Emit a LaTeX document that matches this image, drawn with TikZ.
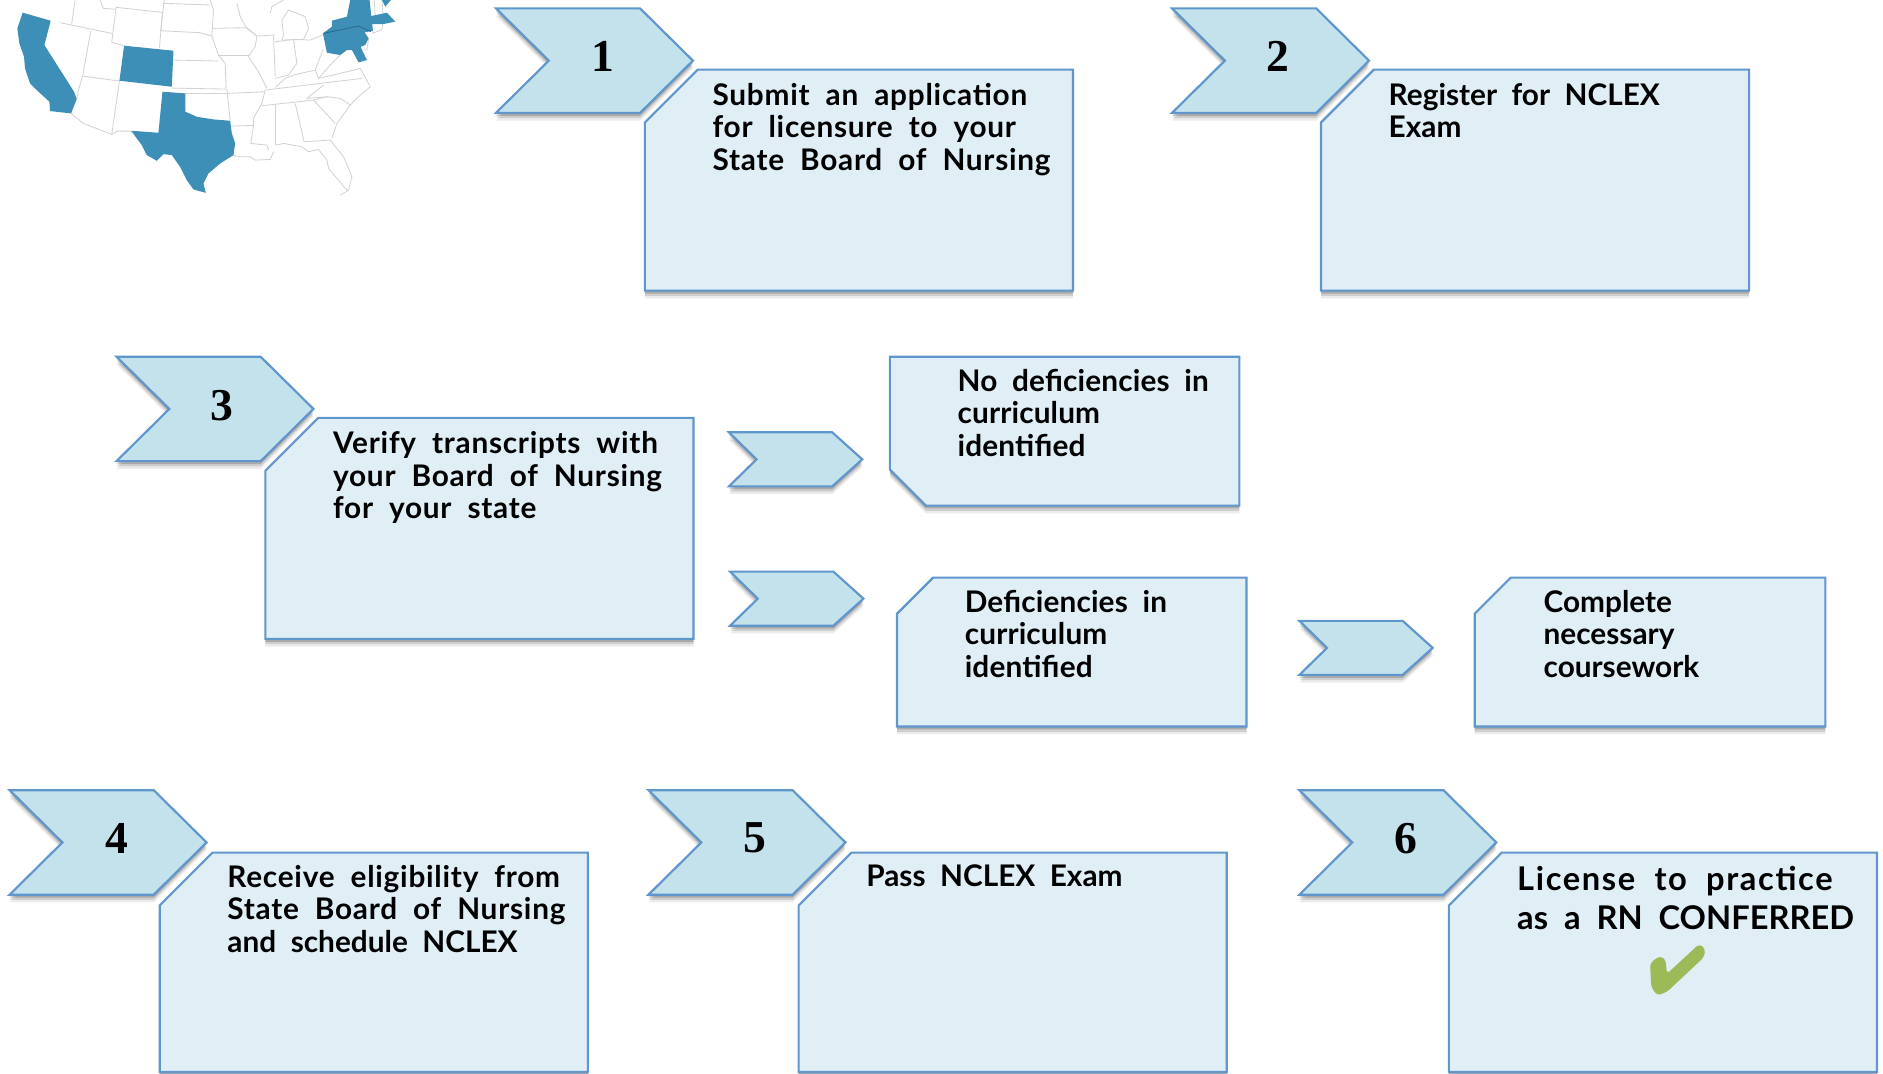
\documentclass[tikz,border=0pt]{standalone}
\usepackage{fontspec}
\setmainfont{Lato}[BoldFont=* Bold,WordSpace=2.0]
\newfontfamily\handwide{Lato}[BoldFont=* Bold,WordSpace=2.0,LetterSpace=2.5]
\newfontfamily\handwider{Lato}[BoldFont=* Bold,WordSpace=2.0,LetterSpace=5]
\newfontfamily\handmid{Lato}[BoldFont=* Bold,WordSpace=2.0,LetterSpace=.5]
\newfontfamily\handcaps{Lato}[BoldFont=* Bold,WordSpace=1.7]
\newfontfamily\handplain{Lato}[BoldFont=* Bold,WordSpace=2.0]
\newfontfamily\numfont{Liberation Serif}[BoldFont=* Bold]
\definecolor{chevfill}{HTML}{C3E2EC}
\definecolor{boxfill}{HTML}{E0EEF6}
\definecolor{edge}{HTML}{5F96CC}
\definecolor{statefill}{HTML}{3D8FB8}
\definecolor{mapline}{HTML}{D2D2D2}
\definecolor{tick}{HTML}{9BBB59}
\tikzset{
  softshadow/.style={
    preaction={fill=black,fill opacity=.08,draw=none,transform canvas={yshift=-3.2pt}},
    preaction={fill=black,fill opacity=.12,draw=none,transform canvas={yshift=-2.2pt}},
    preaction={fill=black,fill opacity=.18,draw=none,transform canvas={yshift=-1.2pt}}},
  chev/.style={softshadow,fill=chevfill,draw=edge,line width=.9pt,line join=miter},
  note/.style={softshadow,fill=boxfill,draw=edge,line width=.9pt,line join=miter},
  numlabel/.style={font=\numfont\bfseries\fontsize{19}{19}\selectfont,inner sep=0pt},
  txtbase/.style={anchor=north west,align=left,inner sep=0pt,text=black},
  txtA/.style={txtbase,font=\handwide\bfseries\fontsize{12.4}{13.5}\selectfont},
  txtB/.style={txtbase,font=\handmid\bfseries\fontsize{12.4}{13.5}\selectfont},
  txtC/.style={txtbase,font=\handcaps\bfseries\fontsize{12.4}{13.5}\selectfont},
  bigtxt/.style={txtbase,font=\bfseries\fontsize{13.6}{16}\selectfont},
  stateline/.style={draw=mapline,line width=.35pt,line join=round},
  stateblue/.style={fill=statefill,draw=none}
}
\newcommand{\bigchev}[2]{%
  \draw[chev] (#1,#2) -- ++(120,0) -- ++(44,43.5) -- ++(-44,43.5) -- ++(-120,0) -- ++(44,-43.5) -- cycle;
}
\newcommand{\smallchev}[2]{%
  \draw[chev] (#1,#2) -- ++(86,0) -- ++(25,22.5) -- ++(-25,22.5) -- ++(-86,0) -- ++(23,-22.5) -- cycle;
}
\newcommand{\bignote}[3]{%
  \draw[note] (#1,#2+44) -- ++(44,-44) -- ++(312.5,0) -- (#1+356.5,#3) -- (#1,#3) -- cycle;
}
\begin{document}
\begin{tikzpicture}[x=.5pt,y=-.5pt]
\useasboundingbox (0,0) rectangle (1568,894);
\begin{scope}
\clip (0,0) rectangle (1568,894);
% map, in units of one third of a reference pixel
\begin{scope}[x=.13889pt,y=-.13889pt]
\foreach \p in {
 {(225,0)--(215,72)},
 {(180,68)--(335,100)},
 {(272,92)--(248,228)--(235,270)--(230,297)},
 {(248,228)--(358,243)},
 {(348,22)--(335,127)--(372,137)},
 {(348,22)--(487,37)--(478,143)},
 {(300,0)--(310,25)--(348,28)},
 {(490,10)--(630,15)},
 {(492,0)--(482,92)},
 {(480,92)--(600,98)--(635,108)--(655,165)--(675,190)--(678,265)},
 {(520,180)--(655,183)},
 {(515,264)--(678,267)},
 {(630,0)--(640,30)--(635,108)},
 {(638,85)--(740,83)},
 {(358,243)--(335,403)--(352,393)--(395,393)},
 {(213,340)--(250,370)--(335,403)},
 {(556,280)--(680,280)},
 {(680,267)--(690,360)},
 {(682,280)--(795,275)},
 {(695,378)--(760,376)},
 {(795,270)--(785,310)--(760,355)--(760,375)--(752,430)--(800,435)--(805,450)},
 {(700,465)--(720,470)--(750,470)--(765,480)--(810,478)--(820,455)},
 {(827,315)--(827,435)},
 {(885,310)--(912,425)},
 {(785,317)--(940,300)},
 {(795,270)--(1085,235)},
 {(940,300)--(980,290)--(1020,295)--(1050,315)--(1010,370)},
 {(940,300)--(1005,370)},
 {(1010,370)--(995,415)},
 {(827,435)--(850,430)--(905,440)--(925,455)--(955,448)--(980,480)--(985,505)--(1015,540)--(1035,565)--(1045,572)},
 {(912,425)--(990,420)--(1030,470)--(1055,530)--(1045,570)--(1020,585)},
 {(1050,315)--(1075,290)--(1110,260)--(1095,232)},
 {(970,255)--(920,295)--(985,290)},
 {(710,10)--(720,50)--(740,85)--(770,108)--(765,140)--(745,170)--(775,215)--(800,265)},
 {(655,165)--(745,165)},
 {(740,83)--(770,108)--(825,105)},
 {(820,108)--(825,230)},
 {(825,125)--(880,118)--(890,190)--(865,225)--(825,235)},
 {(880,118)--(930,120)--(968,105)},
 {(845,60)--(850,105)--(845,120)--(910,118)--(925,85)--(915,50)--(890,40)--(865,30)--(845,60)},
 {(810,40)--(815,20)--(850,0)},
 {(945,210)--(955,235)--(990,195)--(1020,165)},
 {(968,150)--(945,210)--(880,225)--(855,235)--(825,262)},
 {(955,235)--(1040,215)--(1080,205)--(1095,232)},
 {(1122,0)--(1125,45)},
 {(1145,0)--(1148,40)},
 {(1115,72)--(1118,100)--(1145,88)--(1148,70)},
 {(1105,115)--(1100,150)--(1085,150)}
}{\path[stateline] \p;}
\fill[stateblue] (68,38)--(152,62)--(133,135)--(222,275)--(230,297)--(213,340)--(150,333)--(148,305)--(110,270)--(90,250)--(75,205)--(72,170)--(58,130)--(52,85)--cycle;
\fill[stateblue] (372,137)--(520,152)--(515,260)--(358,242)--cycle;
\fill[stateblue] (487,275)--(556,280)--(556,335)--(590,350)--(640,358)--(690,362)--(695,400)--(705,430)--(700,465)--(660,490)--(625,520)--(610,550)--(617,578)--(580,568)--(560,540)--(540,500)--(515,465)--(490,462)--(470,482)--(440,465)--(425,435)--(393,392)--(475,398)--cycle;
\fill[stateblue] (1050,0)--(1108,0)--(1113,48)--(1160,38)--(1185,65)--(1150,72)--(1115,72)--(1118,92)--(1093,97)--(1105,115)--(1095,135)--(1082,140)--(1085,150)--(1100,180)--(1075,187)--(1055,150)--(1040,150)--(1020,165)--(980,158)--(968,100)--(995,80)--(995,62)--(1040,50)--cycle;
\fill[stateblue] (1145,0)--(1172,0)--(1155,20)--cycle;
\draw[statefill!70!black,line width=.3pt] (970,100)--(1075,78)--(1112,95);
\end{scope}

% chevrons and note boxes
\bigchev{413}{7} \bignote{537}{58}{242}
\bigchev{976}{7} \bignote{1100}{58}{242}
\bigchev{97}{297} \bignote{221}{348}{532}
\bigchev{8}{658} \bignote{133}{710}{892.6}
\bigchev{540}{658} \bignote{665}{710}{892.6}
\bigchev{1082}{658} \bignote{1206.5}{710}{892.6}
\smallchev{607}{360}
\smallchev{608}{476}
\smallchev{1082}{517}
\draw[note] (741,297) -- (1032,297) -- (1032,421) -- (771,421) -- (741,391) -- cycle;
\draw[note] (747,511) -- (777,481) -- (1038,481) -- (1038,605) -- (747,605) -- cycle;
\draw[note] (1228,511) -- (1258,481) -- (1520,481) -- (1520,605) -- (1228,605) -- cycle;

% step numbers
\node[numlabel] (n1) at (502,47) {1};
\node[numlabel] (n2) at (1064,47) {2};
\node[numlabel] (n3) at (185,338) {3};
\node[numlabel] (n4) at (97,698) {4};
\node[numlabel] (n5) at (629,698) {5};
\node[numlabel] (n6) at (1171,698) {6};

% texts
\node[txtA] (t1) at (593,69) {Submit an application\\for licensure to your\\State Board of Nursing};
\node[txtC] (t2) at (1156,69) {Register for NCLEX\\Exam};
\node[txtA] (t3) at (277,359) {Verify transcripts with\\your Board of Nursing\\for your state};
\node[txtB] (t3a) at (797,307) {No deficiencies in\\curriculum\\identified};
\node[txtB] (t3b) at (803,491) {Deficiencies in\\curriculum\\identified};
\node[txtC] (t3c) at (1285,491) {Complete\\necessary\\coursework};
\node[txtA] (t4) at (189,720) {Receive eligibility from\\State Board of Nursing\\{\handcaps\bfseries and schedule NCLEX}};
\node[txtC] (t5) at (721,720) {Pass NCLEX Exam};
\node[bigtxt] (t6) at (1263,721) {{\handwider\bfseries License to practice}\\{\handplain\bfseries as a RN CONFERRED}};

% tick mark
\fill[tick,rounded corners=1.5pt] (1374,802) -- (1382,796) -- (1387,799) -- (1388,811) -- (1415,786) -- (1420,790) -- (1419,797) -- (1388,826) -- (1380,829) -- (1375,822) -- cycle;
\end{scope}
\end{tikzpicture}
\end{document}
